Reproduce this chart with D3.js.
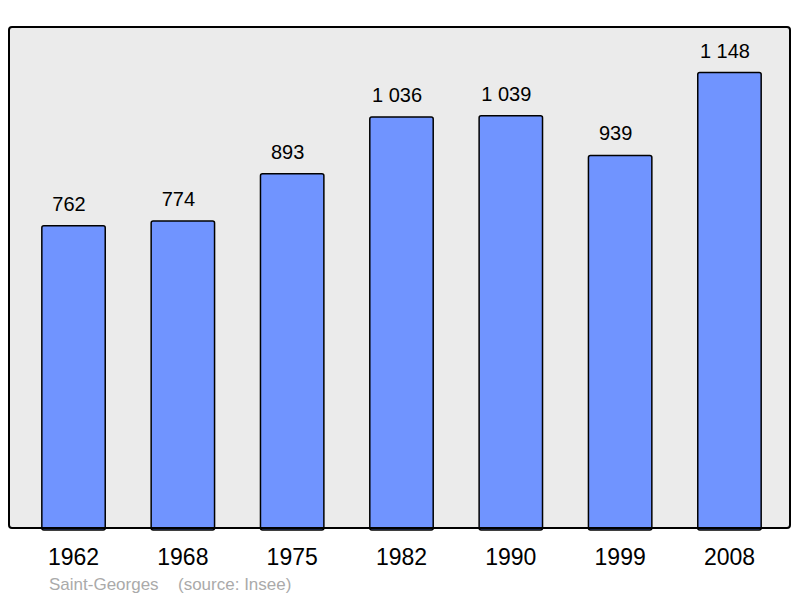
<!DOCTYPE html>
<html>
<head>
<meta charset="utf-8">
<script src="https://cdn.jsdelivr.net/npm/d3@7"></script>
<style>
  body { margin: 0; background: #fff; }
  svg { display: block; font-family: "Liberation Sans", Arial, sans-serif; }
</style>
</head>
<body>
<svg id="chart" width="800" height="598"></svg>
<script>
// population of Saint-Georges by census year
const years = ["1962", "1968", "1975", "1982", "1990", "1999", "2008"];
const population = [762, 774, 893, 1036, 1039, 939, 1148];
const place = "Saint-Georges";
const source = "(source: Insee)";

const svg = d3.select("#chart");
const frame = { left: 9, top: 27, right: 790, bottom: 528 };

const x = d3.scaleBand()
  .domain(years)
  .range([14.5, 788.5])
  .paddingInner(0.42)
  .paddingOuter(0.25);

const y = d3.scaleLinear()
  .domain([0, d3.max(population) * 1.1])
  .range([frame.bottom, frame.top]);

const fmt = v => d3.format(",")(v).replace(/,/g, " ");

// plot background
svg.append("rect")
  .attr("x", frame.left)
  .attr("y", frame.top)
  .attr("width", frame.right - frame.left)
  .attr("height", frame.bottom - frame.top)
  .attr("rx", 3)
  .attr("fill", "#ebebeb");

const rows = years.map((yr, i) => ({ year: yr, value: population[i] }));

svg.append("g").selectAll("rect")
  .data(rows)
  .join("rect")
    .attr("x", d => x(d.year))
    .attr("y", d => y(d.value))
    .attr("width", x.bandwidth())
    .attr("height", d => y(0) - y(d.value) + 2)
    .attr("rx", 2)
    .attr("fill", "#7094ff")
    .attr("stroke", "#000")
    .attr("stroke-width", 1.5);

// value labels sit a little left of the bar centre in the original
svg.append("g").selectAll("text")
  .data(rows)
  .join("text")
    .attr("x", d => x(d.year) + x.bandwidth() / 2 - 4.5)
    .attr("y", d => y(d.value) - 15)
    .attr("text-anchor", "middle")
    .attr("font-size", 20)
    .attr("fill", "#000")
    .text(d => fmt(d.value));

// frame on top so it covers the bar bottoms
svg.append("rect")
  .attr("x", frame.left)
  .attr("y", frame.top)
  .attr("width", frame.right - frame.left)
  .attr("height", frame.bottom - frame.top)
  .attr("rx", 3)
  .attr("fill", "none")
  .attr("stroke", "#000")
  .attr("stroke-width", 2);

// year labels
const xAxis = svg.append("g")
  .attr("transform", `translate(0,${frame.bottom})`)
  .call(d3.axisBottom(x).tickSize(0).tickPadding(37));
xAxis.select(".domain").remove();
xAxis.selectAll("text")
  .attr("font-size", 23)
  .attr("font-family", "Liberation Sans, Arial, sans-serif")
  .attr("fill", "#000")
  .attr("dy", "0");

svg.append("text")
  .attr("x", 49)
  .attr("y", 590)
  .attr("font-size", 17)
  .attr("fill", "#aaaaaa")
  .text(place);

svg.append("text")
  .attr("x", 178)
  .attr("y", 590)
  .attr("font-size", 17)
  .attr("fill", "#aaaaaa")
  .text(source);
</script>
</body>
</html>
